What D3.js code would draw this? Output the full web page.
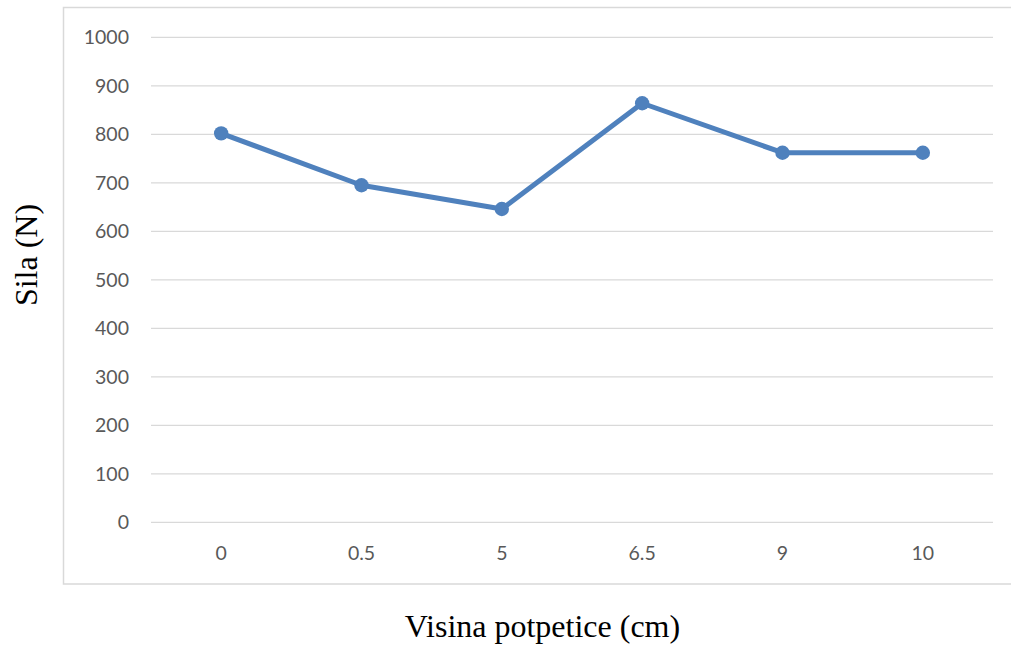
<!DOCTYPE html>
<html><head><meta charset="utf-8">
<script src="https://cdn.jsdelivr.net/npm/d3@7"></script>
<style>body{margin:0;background:#fff;} svg{display:block;}</style>
</head><body>
<script>
const categories = ["0", "0.5", "5", "6.5", "9", "10"];
const values = [802, 695, 646, 864, 762, 762];
const yTicks = [0, 100, 200, 300, 400, 500, 600, 700, 800, 900, 1000];
const xTitle = "Visina potpetice (cm)";
const yTitle = "Sila (N)";

const W = 1011, H = 648;
const svg = d3.select("body").append("svg").attr("width", W).attr("height", H);

// chart border
svg.append("rect").attr("x", 63.5).attr("y", 7.5).attr("width", 960).attr("height", 576.5)
  .attr("fill", "none").attr("stroke", "#d9d9d9").attr("stroke-width", 1.5);

const x = d3.scaleBand().domain(categories).range([151, 993]);
const y = d3.scaleLinear().domain([0, 1000]).range([522.3, 37.3]);

const tickFont = "Lato, 'Open Sans', sans-serif";
// gridlines
svg.append("g").selectAll("line").data(yTicks).join("line")
  .attr("x1", 151).attr("x2", 993)
  .attr("y1", d => y(d)).attr("y2", d => y(d))
  .attr("stroke", "#d9d9d9").attr("stroke-width", 1.3);

// y axis labels
svg.append("g").selectAll("text").data(yTicks).join("text")
  .attr("x", 129).attr("y", d => y(d)).attr("dy", "0.35em")
  .attr("text-anchor", "end").attr("font-family", tickFont).attr("font-size", 19.5)
  .attr("fill", "#595959").text(d => d);

// x axis labels
svg.append("g").selectAll("text").data(categories).join("text")
  .attr("x", d => x(d) + x.bandwidth() / 2).attr("y", 553).attr("dy", "0.35em")
  .attr("text-anchor", "middle").attr("font-family", tickFont).attr("font-size", 19.5)
  .attr("fill", "#595959").text(d => d);

const color = "#4f81bd";
const data = categories.map((c, i) => ({c, v: values[i]}));
const line = d3.line().x(d => x(d.c) + x.bandwidth() / 2).y(d => y(d.v));
svg.append("path").datum(data).attr("d", line).attr("fill", "none")
  .attr("stroke", color).attr("stroke-width", 5).attr("stroke-linejoin", "round").attr("stroke-linecap", "round");
svg.append("g").selectAll("circle").data(data).join("circle")
  .attr("cx", d => x(d.c) + x.bandwidth() / 2).attr("cy", d => y(d.v)).attr("r", 7.2)
  .attr("fill", color);

// titles
svg.append("text").attr("x", 542.5).attr("y", 637).attr("text-anchor", "middle")
  .attr("font-family", "'Liberation Serif', 'Times New Roman', serif").attr("font-size", 32)
  .attr("fill", "#000").text(xTitle);
svg.append("text").attr("transform", "translate(37,255) rotate(-90)").attr("text-anchor", "middle")
  .attr("font-family", "'Liberation Serif', 'Times New Roman', serif").attr("font-size", 32)
  .attr("fill", "#000").text(yTitle);
</script>
</body></html>
